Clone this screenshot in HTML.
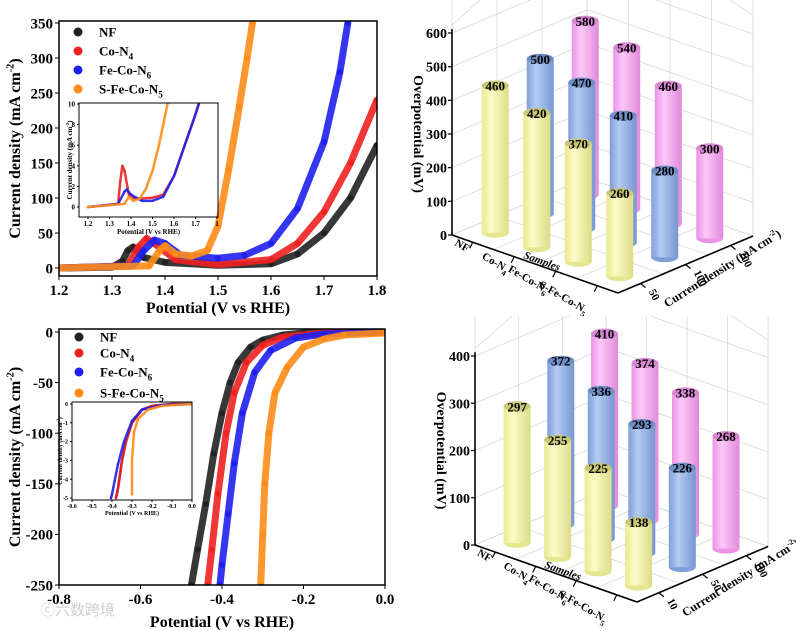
<!DOCTYPE html>
<html><head><meta charset="utf-8">
<style>
html,body{margin:0;padding:0;background:#fff;}
svg{display:block;font-family:"Liberation Serif","Noto Serif CJK SC",serif;font-weight:bold;}
</style></head>
<body>
<svg id="fig" width="796" height="631" viewBox="0 0 796 631" xmlns="http://www.w3.org/2000/svg">
<defs>
<linearGradient id="gy" x1="0" x2="1"><stop offset="0" stop-color="#e8e890"/><stop offset="0.35" stop-color="#fcfcc8"/><stop offset="1" stop-color="#dcdc88"/></linearGradient>
<linearGradient id="gb" x1="0" x2="1"><stop offset="0" stop-color="#7f9fd8"/><stop offset="0.35" stop-color="#b4ccf4"/><stop offset="1" stop-color="#7796d0"/></linearGradient>
<linearGradient id="gp" x1="0" x2="1"><stop offset="0" stop-color="#eb94e6"/><stop offset="0.35" stop-color="#fcc8f8"/><stop offset="1" stop-color="#e08ada"/></linearGradient>
<clipPath id="clipA"><rect x="59" y="21" width="318" height="255"/></clipPath>
<clipPath id="clipAi"><rect x="79" y="103" width="139" height="114"/></clipPath>
<clipPath id="clipC"><rect x="59" y="329" width="326" height="256"/></clipPath>
<clipPath id="clipCi"><rect x="72" y="402" width="120" height="98"/></clipPath>
<clipPath id="clipB"><rect x="400" y="0" width="396" height="316"/></clipPath>
<clipPath id="clipD"><rect x="400" y="316" width="396" height="315"/></clipPath>
</defs>
<text x="40" y="615" font-size="15" fill="#d0d0d0" font-weight="normal" font-family="'Liberation Sans','Noto Sans CJK SC',sans-serif">ⓒ六数跨境</text>
</svg>
<script>
const NS="http://www.w3.org/2000/svg";
const svg=document.getElementById('fig');
function el(tag,attrs,parent){const e=document.createElementNS(NS,tag);for(const k in attrs)e.setAttribute(k,attrs[k]);(parent||svg).appendChild(e);return e;}

// ---------- DATA ----------
const seriesNames=["NF","Co-N4","Fe-Co-N6","S-Fe-Co-N5"];
const seriesColors=["#222222","#ee2020","#2020ee","#ff8c18"];
// Panel a (OER LSV): [V, mA cm-2]
const oerNF=[[1.2,0],[1.3,1],[1.32,10],[1.33,25],[1.34,30],[1.36,15],[1.4,8],[1.5,4],[1.6,6],[1.65,20],[1.7,50],[1.75,100],[1.8,175]];
const oerCo=[[1.2,0],[1.33,3],[1.35,30],[1.365,42],[1.38,35],[1.42,12],[1.5,5],[1.6,12],[1.65,35],[1.7,80],[1.75,150],[1.8,240]];
const oerFe=[[1.2,0],[1.34,3],[1.36,25],[1.38,40],[1.4,35],[1.43,18],[1.5,14],[1.55,18],[1.6,35],[1.65,85],[1.7,180],[1.73,280],[1.745,350]];
const oerS=[[1.2,0],[1.37,3],[1.39,25],[1.4,32],[1.42,20],[1.45,17],[1.48,25],[1.5,60],[1.52,140],[1.54,230],[1.555,300],[1.565,350]];
const oerInCo=[[1.2,0],[1.34,0.3],[1.35,2.5],[1.36,4],[1.37,3.5],[1.39,1.2],[1.42,0.8],[1.5,0.9],[1.55,1.2],[1.6,3],[1.65,6],[1.7,9],[1.715,10]];
const oerInFe=[[1.2,0],[1.34,0.3],[1.37,1.5],[1.38,1.7],[1.4,1.2],[1.45,0.6],[1.5,0.6],[1.55,1],[1.6,3],[1.65,6],[1.7,9],[1.715,10]];
const oerInS=[[1.2,0],[1.37,0.3],[1.39,1.0],[1.41,0.6],[1.44,0.8],[1.47,1.8],[1.5,3.5],[1.53,6],[1.56,9],[1.57,10]];
// Panel c (HER LSV)
const herNF=[[0,0],[-0.1,0],[-0.2,-1],[-0.25,-3],[-0.3,-8],[-0.33,-15],[-0.36,-30],[-0.38,-50],[-0.4,-80],[-0.42,-120],[-0.44,-170],[-0.46,-215],[-0.475,-250]];
const herCo=[[0,0],[-0.15,-1],[-0.25,-5],[-0.3,-13],[-0.34,-30],[-0.37,-60],[-0.39,-100],[-0.41,-160],[-0.425,-215],[-0.435,-250]];
const herFe=[[0,0],[-0.15,-2],[-0.22,-6],[-0.28,-18],[-0.32,-40],[-0.35,-80],[-0.37,-130],[-0.385,-180],[-0.4,-230],[-0.405,-250]];
const herS=[[0,-1],[-0.1,-3],[-0.15,-7],[-0.2,-15],[-0.24,-35],[-0.27,-60],[-0.285,-100],[-0.295,-150],[-0.3,-200],[-0.305,-250]];
const herInCo=[[0,0],[-0.1,0],[-0.2,-0.1],[-0.25,-0.3],[-0.3,-1],[-0.33,-2],[-0.35,-3],[-0.37,-4.5],[-0.38,-5]];
const herInFe=[[0,0],[-0.15,-0.05],[-0.25,-0.3],[-0.3,-0.9],[-0.34,-2],[-0.37,-3.2],[-0.4,-4.8],[-0.405,-5]];
const herInS=[[0,0],[-0.15,-0.1],[-0.22,-0.3],[-0.27,-0.8],[-0.29,-1.5],[-0.3,-3],[-0.3,-4.2],[-0.3,-4.8]];
// Panels b, d (3D bars)
const sampleLabels=["NF","Co-N4","Fe-Co-N6","S-Fe-Co-N5"];
const oerDensities=["50","100","200"];
const oerOver50=[460,420,370,260];
const oerOver100=[500,470,410,280];
const oerOver200=[580,540,460,300];
const oerTicks=[0,100,200,300,400,500,600];
const herDensities=["10","50","100"];
const herOver10=[297,255,225,138];
const herOver50=[372,336,293,226];
const herOver100=[410,374,338,268];
const herTicks=[0,100,200,300,400];

// ---------- 2D LINE PANELS ----------
function linScale(d0,d1,r0,r1){return v=>r0+(v-d0)/(d1-d0)*(r1-r0);}
function sub(t,label){
  const m=label.match(/^(.*N)(\d)$/);
  if(m){const a=el('tspan',{},t);a.textContent=m[1];const b=el('tspan',{'font-size':'0.7em',dy:'4'},t);b.textContent=m[2];}
  else t.textContent=label;
}
function panel(o){
  const g=el('g',{});
  
  
  const X=linScale(o.xd[0],o.xd[1],o.xr[0],o.xr[1]);
  const Y=linScale(o.yd[0],o.yd[1],o.yr[0],o.yr[1]);
  const cg=el('g',{'clip-path':`url(#${o.clip})`},g);
  o.series.forEach((s,si)=>{
    if(!s)return;
    const pts=s.map(p=>[X(p[0]),Y(p[1])]);
    const pl=el('polyline',{points:pts.map(p=>p.join(',')).join(' '),fill:'none',stroke:seriesColors[si],'stroke-width':o.lw,'stroke-linejoin':'round','stroke-linecap':'round','stroke-opacity':0.9},cg);
    
    
    pts.forEach(p=>{
      const c=el('circle',{cx:p[0],cy:p[1],r:o.mr,fill:seriesColors[si]},cg);
      
      
    });
  });
  const [x0,x1]=o.box[0],[y0,y1]=o.box[1];
  const fr=el('rect',{x:x0,y:y0,width:x1-x0,height:y1-y0,fill:'none',stroke:'#000','stroke-width':o.fw},g);
  
  
  o.xt.forEach(v=>{
    const x=X(v);
    el('line',{x1:x,x2:x,y1:y1,y2:y1+o.tl,stroke:'#000','stroke-width':1},g);
    const t=el('text',{x:x,y:y1+o.tl+o.fs,'font-size':o.fs,'text-anchor':'middle'},g);
    t.textContent=o.xfmt(v);
    
    
  });
  o.yt.forEach(v=>{
    const y=Y(v);
    el('line',{x1:x0,x2:x0-o.tl,y1:y,y2:y,stroke:'#000','stroke-width':1},g);
    const t=el('text',{x:x0-o.tl-2,y:y+o.fs*0.35,'font-size':o.fs,'text-anchor':'end'},g);
    t.textContent=o.yfmt(v);
    
    
  });
  const xt=el('text',{x:(x0+x1)/2,y:o.xty,'font-size':o.tfs,'text-anchor':'middle'},g);
  xt.textContent='Potential (V vs RHE)';
  
  
  const yt=el('text',{x:0,y:0,'font-size':o.tfs,'text-anchor':'middle',transform:`translate(${o.ytx},${(y0+y1)/2}) rotate(-90)`},g);
  const a=el('tspan',{},yt);a.textContent='Current density (mA cm';
  const b=el('tspan',{'font-size':'0.65em',dy:-o.tfs*0.4},yt);b.textContent='-2';
  const c=el('tspan',{dy:o.tfs*0.4},yt);c.textContent=')';
  
  
  if(o.legend){
    o.legend.ys.forEach((y,i)=>{
      const lg=el('g',{},g);
      
      
      el('circle',{cx:o.legend.x,cy:y,r:4.5,fill:seriesColors[i]},lg);
      const t=el('text',{x:o.legend.x+21,y:y+4.5,'font-size':13},lg);
      sub(t,seriesNames[i]);
    });
  }
}
const f1=v=>v.toFixed(1);
panel({name:'oer-lsv-plot',clip:'clipA',xd:[1.2,1.8],xr:[59,377],yd:[0,350],yr:[268,23],box:[[59,377],[21,276]],
  series:[oerNF,oerCo,oerFe,oerS],lw:7,mr:3,fw:1.5,tl:4,fs:15,tfs:16,xty:313,ytx:20,
  xt:[1.2,1.3,1.4,1.5,1.6,1.7,1.8],yt:[0,50,100,150,200,250,300,350],xfmt:f1,yfmt:v=>String(v),
  legend:{x:78,ys:[32,51,70,89]}});
panel({name:'oer-inset-plot',clip:'clipAi',xd:[1.2,1.8],xr:[88,217],yd:[0,10],yr:[207,104],box:[[79,218],[103,217]],
  series:[null,oerInCo,oerInFe,oerInS],lw:2.5,mr:1,fw:1,tl:2,fs:7,tfs:7,xty:234,ytx:72,
  xt:[1.2,1.3,1.4,1.5,1.6,1.7,1.8],yt:[0,2,4,6,8,10],xfmt:v=>v===1.8?'1':f1(v),yfmt:v=>String(v)});
panel({name:'her-lsv-plot',clip:'clipC',xd:[-0.8,0],xr:[59,385],yd:[0,-250],yr:[332,585],box:[[59,385],[329,585]],
  series:[herNF,herCo,herFe,herS],lw:7,mr:3,fw:1.5,tl:4,fs:15,tfs:16,xty:627,ytx:20,
  xt:[-0.8,-0.6,-0.4,-0.2,0],yt:[0,-50,-100,-150,-200,-250],xfmt:f1,yfmt:v=>String(v),
  legend:{x:79,ys:[337,353,372,393]}});
panel({name:'her-inset-plot',clip:'clipCi',xd:[-0.6,0],xr:[72,192],yd:[0,-5],yr:[404,498],box:[[72,192],[402,500]],
  series:[herInCo,herInCo,herInFe,herInS],lw:2.5,mr:1,fw:1,tl:2,fs:6,tfs:6,xty:515,ytx:62,
  xt:[-0.6,-0.5,-0.4,-0.3,-0.2,-0.1,0],yt:[0,-1,-2,-3,-4,-5],xfmt:f1,yfmt:v=>String(v)});

// ---------- 3D BAR PANELS ----------
function bars3d(o){
  const g=el('g',{'clip-path':`url(#${o.clip})`});
  
  
  const P=(i,j,z)=>[o.O[0]+i*o.s[0]+j*o.c[0], o.O[1]+i*o.s[1]+j*o.c[1]-z*o.k];
  const zt=o.ticks[o.ticks.length-1]*1.04;
  const nI=4,nJ=3;
  const gl=(a,b)=>el('line',{x1:a[0],y1:a[1],x2:b[0],y2:b[1],stroke:'#d8d8d8','stroke-width':0.8},g);
  o.ticks.forEach(v=>{gl(P(0,0,v),P(0,nJ,v));gl(P(0,nJ,v),P(nI,nJ,v));});
  for(let i=0;i<=nI;i++){gl(P(i,0,0),P(i,nJ,0));gl(P(i,nJ,0),P(i,nJ,zt*1.3));}
  for(let j=0;j<=nJ;j++){gl(P(0,j,0),P(nI,j,0));gl(P(0,j,0),P(0,j,zt*1.3));}
  gl(P(0,0,zt),P(0,nJ,zt*1.3));gl(P(0,nJ,zt*1.3),P(nI,nJ,zt*1.05));gl(P(nI,nJ,0),P(nI,nJ,zt*1.05));
  // axes
  const ax=(a,b,w)=>el('line',{x1:a[0],y1:a[1],x2:b[0],y2:b[1],stroke:'#000','stroke-width':w||1.6},g);
  ax(P(0,0,0),P(0,0,o.ticks[o.ticks.length-1]*1.02));
  ax(P(0,0,0),P(nI,0,0));ax(P(nI,0,0),P(nI,nJ,0));
  o.ticks.forEach(v=>{const p=P(0,0,v);ax(p,[p[0]-4,p[1]],1.2);
    const t=el('text',{x:p[0]-5,y:p[1]+5,'font-size':14,'text-anchor':'end'},g);t.textContent=String(v);
    
    });
  sampleLabels.forEach((s,i)=>{const p=P(i+0.5,0,0);ax(p,[p[0]-3,p[1]+6],1.2);
    const lx=p[0]-6-2*i,ly=p[1]+10+6*i;
    const t=el('text',{x:lx,y:ly,'font-size':11,'text-anchor':'end',transform:`rotate(30 ${lx} ${ly})`},g);sub(t,s);
    
    });
  o.dens.forEach((d,j)=>{const p=P(nI,j+0.5,0);ax(p,[p[0]+5,p[1]+4],1.2);
    const t=el('text',{x:p[0]+8,y:p[1]+8,'font-size':11,transform:`rotate(62 ${p[0]+8} ${p[1]+8})`},g);t.textContent=d;
    
    });
  const sp=P(2,0,0);
  const st=el('text',{x:sp[0]-12,y:sp[1]-6,'font-size':11,'font-style':'italic',transform:`rotate(20 ${sp[0]-12} ${sp[1]-6})`},g);st.textContent='Samples';
  
  
  const cp=P(nI,0.6,0);
  const tx=cp[0]+22,ty=cp[1]+26;
  const ct=el('text',{x:tx,y:ty,'font-size':12,transform:`rotate(-32 ${tx} ${ty})`},g);
  const c1=el('tspan',{},ct);c1.textContent='Current density (mA cm';
  const c2=el('tspan',{'font-size':'0.65em',dy:-5},ct);c2.textContent='-2';
  const c3=el('tspan',{dy:5},ct);c3.textContent=')';
  
  
  const zp=P(0,0,o.ticks[o.ticks.length-1]/2);
  const zt2=el('text',{x:0,y:0,'font-size':14,'text-anchor':'middle',transform:`translate(${zp[0]-38},${zp[1]}) rotate(90)`},g);zt2.textContent='Overpotential (mV)';
  
  
  // bars
  const fills=['url(#gy)','url(#gb)','url(#gp)'];
  const tops=['#c8c878','#6f8cc4','#d888d2'];
  const bots=['#e6e690','#7f9fd8','#eb94e6'];
  const items=[];
  o.vals.forEach((arr,j)=>arr.forEach((v,i)=>items.push({i,j,v})));
  const PB=(i,j,z)=>{const b=P(i,j,0);const kb=o.kf-(o.kf-o.kb)*(j-0.5)/2;return [b[0],b[1]-z*kb];};
  items.sort((a,b)=>P(a.i+0.5,a.j+0.5,0)[1]-P(b.i+0.5,b.j+0.5,0)[1]);
  const rx=13.5,ry=5;
  items.forEach(it=>{
    const b=P(it.i+0.5,it.j+0.5,0),t=PB(it.i+0.5,it.j+0.5,it.v);
    const bg=el('g',{},g);
    
    
    el('ellipse',{cx:b[0],cy:b[1],rx,ry,fill:bots[it.j]},bg);
    el('rect',{x:b[0]-rx,y:t[1],width:2*rx,height:b[1]-t[1],fill:fills[it.j]},bg);
    el('ellipse',{cx:t[0],cy:t[1],rx,ry,fill:tops[it.j]},bg);
    const lt=el('text',{x:t[0],y:t[1]+5,'font-size':13,'text-anchor':'middle'},bg);lt.textContent=String(it.v);
  });
}
bars3d({name:'oer-overpotential-3d-bars',clip:'clipB',O:[452,235],s:[41.5,14.5],c:[45,-19],k:202/600,kf:0.32,kb:0.30,ticks:oerTicks,dens:oerDensities,vals:[oerOver50,oerOver100,oerOver200]});
bars3d({name:'her-overpotential-3d-bars',clip:'clipD',O:[475,545],s:[40.5,14.25],c:[43.7,-18.5],k:189/400,kf:0.46,kb:0.42,ticks:herTicks,dens:herDensities,vals:[herOver10,herOver50,herOver100]});
</script>
</body></html>
